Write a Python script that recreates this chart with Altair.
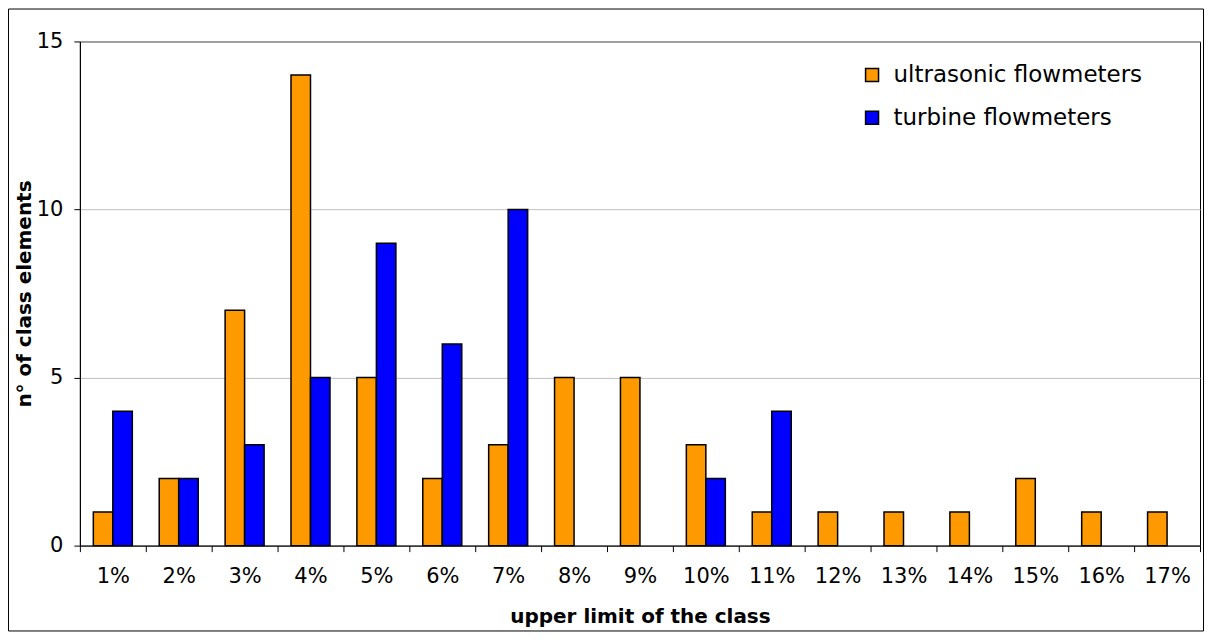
import altair as alt
import pandas as pd

categories = ["1%", "2%", "3%", "4%", "5%", "6%", "7%", "8%", "9%",
              "10%", "11%", "12%", "13%", "14%", "15%", "16%", "17%"]
ultrasonic = [1, 2, 7, 14, 5, 2, 3, 5, 5, 3, 1, 1, 1, 1, 2, 1, 1]
turbine = [4, 2, 3, 5, 9, 6, 10, 0, 0, 2, 4, 0, 0, 0, 0, 0, 0]
series = ["ultrasonic flowmeters", "turbine flowmeters"]
colors = ["#FF9900", "#0000FF"]

rows = []
for c, u, t in zip(categories, ultrasonic, turbine):
    rows.append({"cls": c, "series": series[0], "n": u})
    rows.append({"cls": c, "series": series[1], "n": t})
df = pd.DataFrame(rows)

W, H = 1122, 505
FONT = "DejaVu Sans"

bars = alt.Chart(df).transform_filter(alt.datum.n > 0).mark_bar(
    stroke="black", strokeWidth=1.5
).encode(
    x=alt.X("cls:N", sort=categories,
            scale=alt.Scale(paddingInner=0, paddingOuter=0),
            axis=alt.Axis(title="upper limit of the class", labelAngle=0,
                          tickBand="extent", tickSize=6, tickColor="black",
                          domainColor="black", labelFontSize=21, labelFont=FONT,
                          labelColor="black", labelBaseline="middle", labelPadding=25,
                          titleFont=FONT, titleFontSize=20, titleFontWeight="bold",
                          titleColor="black", titleY=71, titleBaseline="middle")),
    xOffset=alt.XOffset("series:N", sort=series,
                        scale=alt.Scale(paddingInner=0, paddingOuter=0.69)),
    y=alt.Y("n:Q", scale=alt.Scale(domain=[0, 15], nice=False),
            axis=alt.Axis(title="n° of class elements", values=[0, 5, 10, 15],
                          tickSize=6, tickColor="black", domainColor="black",
                          gridColor="#c0c0c0", labelFontSize=21, labelFont=FONT,
                          labelColor="black", labelPadding=11,
                          titleFont=FONT, titleFontSize=20, titleFontWeight="bold",
                          titleColor="black", titleX=-55, titleY=H / 2,
                          titleAngle=270, titleAlign="center",
                          titleBaseline="middle")),
    color=alt.Color("series:N", sort=series,
                    scale=alt.Scale(domain=series, range=colors),
                    legend=alt.Legend(title=None, orient="none", legendX=782,
                                      legendY=22, symbolType="square",
                                      symbolSize=169, symbolStrokeColor="black",
                                      symbolStrokeWidth=1.5, symbolOpacity=1,
                                      labelFont=FONT, labelFontSize=23,
                                      labelLimit=500,
                                      labelColor="black", labelOffset=10,
                                      rowPadding=19)),
)

frame = alt.Chart(alt.Data(values=[{"a": 1}])).mark_rect(
    fillOpacity=0, stroke="black", strokeWidth=1
).encode(
    x=alt.value(-71.5), x2=alt.value(1125.5),
    y=alt.value(-32.5), y2=alt.value(590.5),
)

chart = alt.layer(bars, frame).properties(
    width=W, height=H,
    autosize=alt.AutoSizeParams(type="none"),
    padding={"left": 72, "top": 33, "right": 6, "bottom": 88},
    background="white",
).configure_view(stroke="black", strokeWidth=1)

chart.save("out.html", embed_options={"renderer": "svg", "actions": False})
